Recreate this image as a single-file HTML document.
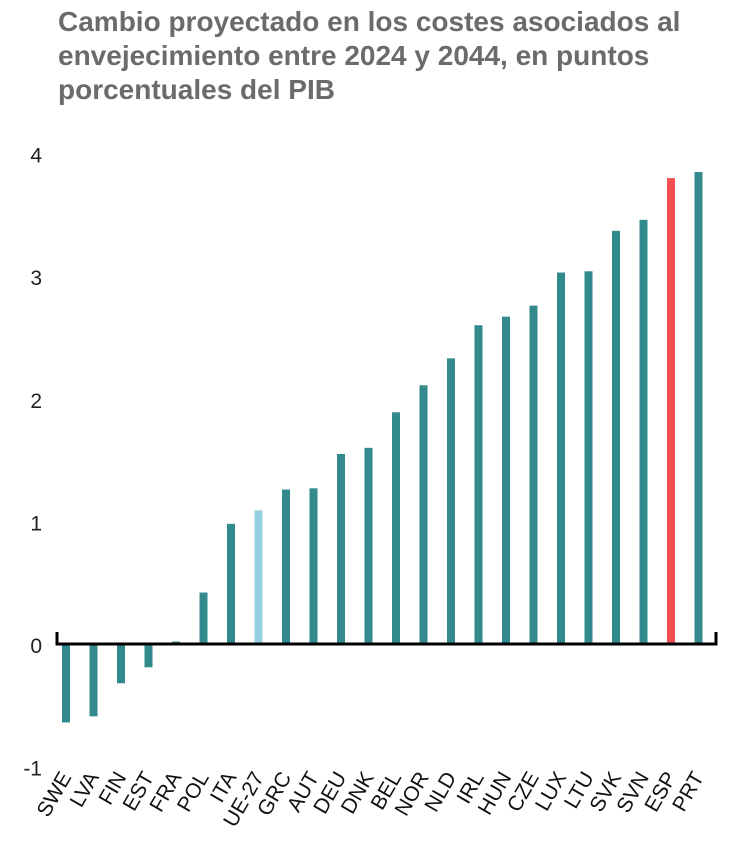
<!DOCTYPE html>
<html><head><meta charset="utf-8"><style>
body{margin:0;background:#fff;width:731px;height:847px;overflow:hidden;font-family:"Liberation Sans",sans-serif}
h1{position:absolute;left:58px;top:5px;margin:0;font-size:28px;line-height:34px;color:#6b6b6b;font-weight:bold;width:690px}
</style></head><body>
<h1>Cambio proyectado en los costes asociados al envejecimiento entre 2024 y 2044, en puntos porcentuales del PIB</h1>
<svg id="c" width="731" height="847" style="position:absolute;left:0;top:0"></svg>
<script>
const categories=["SWE","LVA","FIN","EST","FRA","POL","ITA","UE-27","GRC","AUT","DEU","DNK","BEL","NOR","NLD","IRL","HUN","CZE","LUX","LTU","SVK","SVN","ESP","PRT"];
const values=[-0.64,-0.59,-0.32,-0.19,0.02,0.42,0.98,1.09,1.26,1.27,1.55,1.6,1.89,2.11,2.33,2.6,2.67,2.76,3.03,3.04,3.37,3.46,3.8,3.85];
const yTicks=[-1,0,1,2,3,4];
const NS="http://www.w3.org/2000/svg";
const svg=document.getElementById('c');
const y=v=>644-v*122.6;
const x=i=>66+i*27.5;
function mk(t,a){const e=document.createElementNS(NS,t);for(const k in a)e.setAttribute(k,a[k]);svg.appendChild(e);return e;}
yTicks.forEach(t=>{const e=mk('text',{x:42,y:y(t)+9,'text-anchor':'end','font-size':21,fill:'#222','font-family':'Liberation Sans, sans-serif'});e.textContent=t;

});
categories.forEach((c,i)=>{const v=values[i];
const col=c==='ESP'?'#f24e4e':c==='UE-27'?'#96cfdf':'#338a8c';
const r=mk('rect',{x:x(i)-4,y:Math.min(y(v),y(0)),width:8,height:Math.abs(y(v)-y(0)),fill:col});


const tx=x(i)+6,ty=777;
const t=mk('text',{x:tx,y:ty,'text-anchor':'end','font-size':21,fill:'#111',transform:`rotate(-60 ${tx} ${ty})`,'font-family':'Liberation Sans, sans-serif'});t.textContent=c;

});
const b=mk('path',{d:`M57 632 V${y(0)} H716 V632`,stroke:'#000','stroke-width':3,fill:'none'});


</script>
</body></html>
